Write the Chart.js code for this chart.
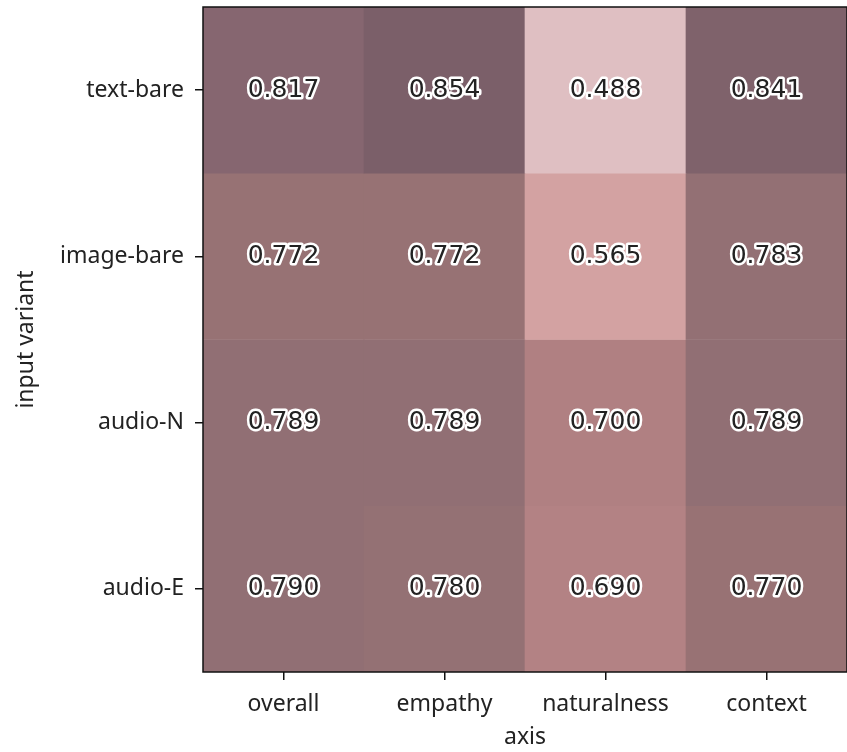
<!DOCTYPE html>
<html>
<head>
<meta charset="utf-8">
<script src="https://cdn.jsdelivr.net/npm/chart.js@4"></script>
<style>
  html, body { margin: 0; padding: 0; background: #fff; }
  #wrap { width: 847px; height: 752px; }
</style>
</head>
<body>
<div id="wrap"><canvas id="heat"></canvas></div>
<script>
const axes = ['overall', 'empathy', 'naturalness', 'context'];
const variants = ['text-bare', 'image-bare', 'audio-N', 'audio-E'];
const textBare = [0.817, 0.854, 0.488, 0.841];
const imageBare = [0.772, 0.772, 0.565, 0.783];
const audioN = [0.789, 0.789, 0.700, 0.789];
const audioE = [0.790, 0.780, 0.690, 0.770];
const rows = [textBare, imageBare, audioN, audioE];

// colour stops (value -> rgb)
const cmap = [
    [0.488, [223, 191, 194]],
    [0.565, [211, 162, 162]],
    [0.695, [178, 129, 131]],
    [0.772, [151, 114, 116]],
    [0.789, [145, 111, 116]],
    [0.817, [134, 102, 112]],
    [0.841, [127, 98, 107]],
    [0.854, [123, 95, 105]]
];

function colorFor(v) {
    if (v <= cmap[0][0]) return 'rgb(' + cmap[0][1].join(',') + ')';
    for (let i = 1; i < cmap.length; i++) {
        if (v <= cmap[i][0]) {
            const t = (v - cmap[i - 1][0]) / (cmap[i][0] - cmap[i - 1][0]);
            const a = cmap[i - 1][1], b = cmap[i][1];
            const c = a.map((x, k) => Math.round(x + (b[k] - x) * t));
            return 'rgb(' + c.join(',') + ')';
        }
    }
    return 'rgb(' + cmap[cmap.length - 1][1].join(',') + ')';
}

const font = "'Noto Sans', sans-serif";

const datasets = rows.map((vals, r) => ({
    label: variants[r],
    values: vals,
    data: vals.map(() => [3 - r, 4 - r]),
    backgroundColor: vals.map(colorFor),
    borderWidth: 0,
    grouped: false,
    barPercentage: 1,
    categoryPercentage: 1
}));

const cellLabels = {
    id: 'cellLabels',
    afterDatasetsDraw(chart) {
        const ctx = chart.ctx;
        ctx.save();
        ctx.font = "25px 'DejaVu Sans', sans-serif";
        ctx.textAlign = 'center';
        ctx.textBaseline = 'middle';
        ctx.lineJoin = 'round';
        chart.data.datasets.forEach((ds, i) => {
            chart.getDatasetMeta(i).data.forEach((bar, j) => {
                const y = (bar.y + bar.base) / 2;
                const txt = ds.values[j].toFixed(3);
                ctx.strokeStyle = '#fff';
                ctx.lineWidth = 5;
                ctx.strokeText(txt, bar.x, y);
                ctx.fillStyle = '#222';
                ctx.fillText(txt, bar.x, y);
            });
        });
        ctx.restore();
    }
};

const frame = {
    id: 'frame',
    afterDraw(chart) {
        const a = chart.chartArea;
        const ctx = chart.ctx;
        ctx.save();
        ctx.strokeStyle = '#111';
        ctx.lineWidth = 1.5;
        ctx.strokeRect(a.left, a.top, a.right - a.left, a.bottom - a.top);
        ctx.restore();
    }
};

const ctx = document.getElementById('heat').getContext('2d');
const heatChart = new Chart(ctx, {
    type: 'bar',
    data: { labels: axes, datasets: datasets },
    options: {
        responsive: true,
        maintainAspectRatio: false,
        animation: false,
        layout: { padding: { top: 7, left: 0, right: 0, bottom: 0 } },
        plugins: { legend: { display: false }, tooltip: { enabled: false } },
        scales: {
            x: {
                grid: { offset: false, drawOnChartArea: false, color: '#111', lineWidth: 1.5, tickLength: 8 },
                border: { display: false },
                ticks: { color: '#222', font: { family: font, size: 23 }, padding: 11 },
                title: { display: true, text: 'axis', color: '#222', font: { family: font, size: 23 }, padding: { top: 2, bottom: 1 } },
                afterFit(scale) {
                    scale.height = 80;
                    scale.paddingLeft = 0;
                    scale.paddingRight = 0;
                }
            },
            y: {
                min: 0,
                max: 4,
                afterBuildTicks(scale) {
                    scale.ticks = variants.map((v, i) => ({ value: 3.5 - i }));
                },
                grid: { drawOnChartArea: false, color: '#111', lineWidth: 1.5, tickLength: 8 },
                border: { display: false },
                ticks: {
                    color: '#222',
                    font: { family: font, size: 23 },
                    padding: 11,
                    callback: (v) => variants[Math.round(3.5 - v)]
                },
                title: { display: true, text: 'input variant', color: '#222', font: { family: font, size: 23 }, padding: { top: 13, bottom: 2 } },
                afterFit(scale) {
                    scale.width = 203;
                    scale.paddingTop = 0;
                    scale.paddingBottom = 0;
                }
            }
        }
    },
    plugins: [cellLabels, frame]
});
</script>
</body>
</html>
